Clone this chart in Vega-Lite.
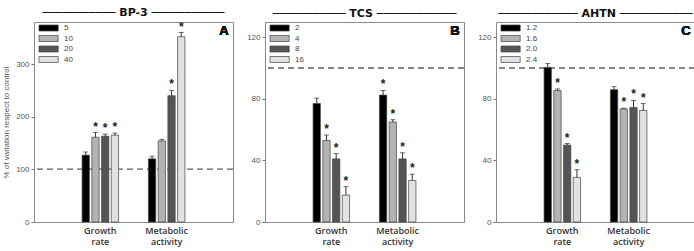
{
  "$schema": "https://vega.github.io/schema/vega-lite/v6.json",
  "padding": {"left": 2, "top": 6, "right": 0, "bottom": 0},
  "background": "white",
  "config": {
    "view": {"stroke": "#8a8a8a", "strokeWidth": 1},
    "font": "Open Sans",
    "title": {"font": "DejaVu Sans", "fontSize": 11, "fontWeight": "bold", "color": "#111", "offset": 3},
    "axisY": {"grid": false, "domain": false, "tickSize": 3, "tickColor": "#777", "labelFontSize": 8, "labelColor": "#555", "labelFont": "Liberation Sans", "labelPadding": 2},
    "axisX": {"domain": false, "ticks": false, "labelAngle": 0, "labelFontSize": 9, "labelColor": "#333", "labelFontWeight": 600, "labelPadding": 4, "labelLineHeight": 11, "title": null, "labelExpr": "split(datum.label, ' ')"},
    "legend": {"orient": "none", "legendX": 10.6, "legendY": 2, "title": null, "labelFontSize": 8, "labelColor": "#444", "labelFont": "Liberation Sans", "symbolType": "M-3.2,-1H3.2V1H-3.2Z", "symbolSize": 36, "symbolStrokeColor": "#444", "symbolStrokeWidth": 0.7, "rowPadding": 0.5, "labelOffset": 11.5, "padding": 0}
  },
  "datasets": {
    "d": [
      {"panel": "A", "endpoint": "Growth rate", "conc": "5", "value": 127, "err": 133, "sig": 0},
      {"panel": "A", "endpoint": "Growth rate", "conc": "10", "value": 161, "err": 170, "sig": 1},
      {"panel": "A", "endpoint": "Growth rate", "conc": "20", "value": 163, "err": 167, "sig": 1},
      {"panel": "A", "endpoint": "Growth rate", "conc": "40", "value": 165, "err": 169, "sig": 1},
      {"panel": "A", "endpoint": "Metabolic activity", "conc": "5", "value": 120, "err": 125, "sig": 0},
      {"panel": "A", "endpoint": "Metabolic activity", "conc": "10", "value": 154, "err": 157, "sig": 0},
      {"panel": "A", "endpoint": "Metabolic activity", "conc": "20", "value": 240, "err": 250, "sig": 1},
      {"panel": "A", "endpoint": "Metabolic activity", "conc": "40", "value": 352, "err": 360, "sig": 1},
      {"panel": "B", "endpoint": "Growth rate", "conc": "2", "value": 77, "err": 80.5, "sig": 0},
      {"panel": "B", "endpoint": "Growth rate", "conc": "4", "value": 53, "err": 56.5, "sig": 1},
      {"panel": "B", "endpoint": "Growth rate", "conc": "8", "value": 41, "err": 44.5, "sig": 1},
      {"panel": "B", "endpoint": "Growth rate", "conc": "16", "value": 17.5, "err": 23, "sig": 1},
      {"panel": "B", "endpoint": "Metabolic activity", "conc": "2", "value": 82.5, "err": 85.5, "sig": 1},
      {"panel": "B", "endpoint": "Metabolic activity", "conc": "4", "value": 65, "err": 66.5, "sig": 1},
      {"panel": "B", "endpoint": "Metabolic activity", "conc": "8", "value": 41, "err": 45, "sig": 1},
      {"panel": "B", "endpoint": "Metabolic activity", "conc": "16", "value": 27, "err": 31, "sig": 1},
      {"panel": "C", "endpoint": "Growth rate", "conc": "1.2", "value": 100.5, "err": 103, "sig": 0},
      {"panel": "C", "endpoint": "Growth rate", "conc": "1.6", "value": 85.5, "err": 86.5, "sig": 1},
      {"panel": "C", "endpoint": "Growth rate", "conc": "2.0", "value": 50, "err": 51, "sig": 1},
      {"panel": "C", "endpoint": "Growth rate", "conc": "2.4", "value": 29, "err": 34, "sig": 1},
      {"panel": "C", "endpoint": "Metabolic activity", "conc": "1.2", "value": 86, "err": 88, "sig": 0},
      {"panel": "C", "endpoint": "Metabolic activity", "conc": "1.6", "value": 73.5, "err": 74, "sig": 1},
      {"panel": "C", "endpoint": "Metabolic activity", "conc": "2.0", "value": 74.5, "err": 79, "sig": 1},
      {"panel": "C", "endpoint": "Metabolic activity", "conc": "2.4", "value": 72.5, "err": 77, "sig": 1}
    ]
  },
  "spacing": 12,
  "resolve": {"scale": {"x": "independent", "y": "independent", "color": "independent", "xOffset": "independent"}, "legend": {"color": "independent"}, "axis": {"y": "independent"}},
  "hconcat": [
    {
      "width": 199, "height": 200,
      "title": {"text": "─────────── BP-3 ───────────"},
      "data": {"name": "d"},
      "transform": [{"filter": "datum.panel == 'A'"}],
      "layer": [
        {"mark": {"type": "rule", "strokeDash": [6, 4], "color": "#888", "strokeWidth": 1}, "encoding": {"y": {"datum": 100, "type": "quantitative", "scale": {"domain": [0, 380], "nice": false}}}},
        {"mark": {"type": "bar", "stroke": "#444", "strokeWidth": 0.7},
         "encoding": {
           "x": {"field": "endpoint", "type": "nominal", "sort": ["Growth rate", "Metabolic activity"], "scale": {"paddingInner": 0.45, "paddingOuter": 0.725}},
           "xOffset": {"field": "conc", "type": "nominal", "sort": ["5", "10", "20", "40"], "scale": {"paddingInner": 0.25}},
           "y": {"field": "value", "type": "quantitative", "scale": {"domain": [0, 380], "nice": false}, "axis": {"values": [0, 50, 100, 150, 200, 250, 300, 350], "title": "% of variation respect to control", "titleFontSize": 8, "titleFontWeight": "normal", "titleColor": "#555", "titleFont": "Liberation Sans", "titlePadding": 5}},
           "color": {"field": "conc", "type": "nominal", "scale": {"domain": ["5", "10", "20", "40"], "range": ["#000000", "#b3b3b3", "#555555", "#e2e2e2"]}}
         }},
        {"mark": {"type": "rule", "color": "#333", "strokeWidth": 1},
         "encoding": {
           "x": {"field": "endpoint", "type": "nominal", "sort": ["Growth rate", "Metabolic activity"]},
           "xOffset": {"field": "conc", "type": "nominal", "sort": ["5", "10", "20", "40"]},
           "y": {"field": "value", "type": "quantitative"}, "y2": {"field": "err"}
         }},
        {"mark": {"type": "tick", "color": "#333", "size": 5, "thickness": 1},
         "encoding": {
           "x": {"field": "endpoint", "type": "nominal", "sort": ["Growth rate", "Metabolic activity"]},
           "xOffset": {"field": "conc", "type": "nominal", "sort": ["5", "10", "20", "40"]},
           "y": {"field": "err", "type": "quantitative"}
         }},
        {"transform": [{"filter": "datum.sig == 1"}],
         "mark": {"type": "text", "text": "*", "fontSize": 12, "fontWeight": "bold", "baseline": "middle", "dy": -6, "color": "#222", "font": "Liberation Sans"},
         "encoding": {
           "x": {"field": "endpoint", "type": "nominal", "sort": ["Growth rate", "Metabolic activity"]},
           "xOffset": {"field": "conc", "type": "nominal", "sort": ["5", "10", "20", "40"]},
           "y": {"field": "err", "type": "quantitative"}
         }},
        {"mark": {"type": "text", "text": "A", "fontSize": 13, "fontWeight": "bold", "align": "right", "baseline": "alphabetic", "dx": 62, "color": "#111", "font": "Liberation Sans"},
         "encoding": {"x": {"datum": "Metabolic activity", "type": "nominal"}, "y": {"datum": 355, "type": "quantitative"}}}
      ]
    },
    {
      "width": 199, "height": 200,
      "title": {"text": "─────────── TCS ────────────"},
      "data": {"name": "d"},
      "transform": [{"filter": "datum.panel == 'B'"}],
      "layer": [
        {"mark": {"type": "rule", "strokeDash": [6, 4], "color": "#888", "strokeWidth": 1}, "encoding": {"y": {"datum": 100, "type": "quantitative", "scale": {"domain": [0, 130], "nice": false}}}},
        {"mark": {"type": "bar", "stroke": "#444", "strokeWidth": 0.7},
         "encoding": {
           "x": {"field": "endpoint", "type": "nominal", "sort": ["Growth rate", "Metabolic activity"], "scale": {"paddingInner": 0.45, "paddingOuter": 0.725}},
           "xOffset": {"field": "conc", "type": "nominal", "sort": ["2", "4", "8", "16"], "scale": {"paddingInner": 0.25}},
           "y": {"field": "value", "type": "quantitative", "scale": {"domain": [0, 130], "nice": false}, "axis": {"values": [0, 20, 40, 60, 80, 100, 120], "title": null}},
           "color": {"field": "conc", "type": "nominal", "scale": {"domain": ["2", "4", "8", "16"], "range": ["#000000", "#b3b3b3", "#555555", "#e2e2e2"]}}
         }},
        {"mark": {"type": "rule", "color": "#333", "strokeWidth": 1},
         "encoding": {
           "x": {"field": "endpoint", "type": "nominal", "sort": ["Growth rate", "Metabolic activity"]},
           "xOffset": {"field": "conc", "type": "nominal", "sort": ["2", "4", "8", "16"]},
           "y": {"field": "value", "type": "quantitative"}, "y2": {"field": "err"}
         }},
        {"mark": {"type": "tick", "color": "#333", "size": 5, "thickness": 1},
         "encoding": {
           "x": {"field": "endpoint", "type": "nominal", "sort": ["Growth rate", "Metabolic activity"]},
           "xOffset": {"field": "conc", "type": "nominal", "sort": ["2", "4", "8", "16"]},
           "y": {"field": "err", "type": "quantitative"}
         }},
        {"transform": [{"filter": "datum.sig == 1"}],
         "mark": {"type": "text", "text": "*", "fontSize": 12, "fontWeight": "bold", "baseline": "middle", "dy": -6, "color": "#222", "font": "Liberation Sans"},
         "encoding": {
           "x": {"field": "endpoint", "type": "nominal", "sort": ["Growth rate", "Metabolic activity"]},
           "xOffset": {"field": "conc", "type": "nominal", "sort": ["2", "4", "8", "16"]},
           "y": {"field": "err", "type": "quantitative"}
         }},
        {"mark": {"type": "text", "text": "B", "fontSize": 13, "fontWeight": "bold", "align": "right", "baseline": "alphabetic", "dx": 62, "color": "#111", "font": "Liberation Sans"},
         "encoding": {"x": {"datum": "Metabolic activity", "type": "nominal"}, "y": {"datum": 121.5, "type": "quantitative"}}}
      ]
    },
    {
      "width": 199, "height": 200,
      "title": {"text": "──────────── AHTN ───────────"},
      "data": {"name": "d"},
      "transform": [{"filter": "datum.panel == 'C'"}],
      "layer": [
        {"mark": {"type": "rule", "strokeDash": [6, 4], "color": "#888", "strokeWidth": 1}, "encoding": {"y": {"datum": 100, "type": "quantitative", "scale": {"domain": [0, 130], "nice": false}}}},
        {"mark": {"type": "bar", "stroke": "#444", "strokeWidth": 0.7},
         "encoding": {
           "x": {"field": "endpoint", "type": "nominal", "sort": ["Growth rate", "Metabolic activity"], "scale": {"paddingInner": 0.45, "paddingOuter": 0.725}},
           "xOffset": {"field": "conc", "type": "nominal", "sort": ["1.2", "1.6", "2.0", "2.4"], "scale": {"paddingInner": 0.25}},
           "y": {"field": "value", "type": "quantitative", "scale": {"domain": [0, 130], "nice": false}, "axis": {"values": [0, 20, 40, 60, 80, 100, 120], "title": null}},
           "color": {"field": "conc", "type": "nominal", "scale": {"domain": ["1.2", "1.6", "2.0", "2.4"], "range": ["#000000", "#b3b3b3", "#555555", "#e2e2e2"]}}
         }},
        {"mark": {"type": "rule", "color": "#333", "strokeWidth": 1},
         "encoding": {
           "x": {"field": "endpoint", "type": "nominal", "sort": ["Growth rate", "Metabolic activity"]},
           "xOffset": {"field": "conc", "type": "nominal", "sort": ["1.2", "1.6", "2.0", "2.4"]},
           "y": {"field": "value", "type": "quantitative"}, "y2": {"field": "err"}
         }},
        {"mark": {"type": "tick", "color": "#333", "size": 5, "thickness": 1},
         "encoding": {
           "x": {"field": "endpoint", "type": "nominal", "sort": ["Growth rate", "Metabolic activity"]},
           "xOffset": {"field": "conc", "type": "nominal", "sort": ["1.2", "1.6", "2.0", "2.4"]},
           "y": {"field": "err", "type": "quantitative"}
         }},
        {"transform": [{"filter": "datum.sig == 1"}],
         "mark": {"type": "text", "text": "*", "fontSize": 12, "fontWeight": "bold", "baseline": "middle", "dy": -6, "color": "#222", "font": "Liberation Sans"},
         "encoding": {
           "x": {"field": "endpoint", "type": "nominal", "sort": ["Growth rate", "Metabolic activity"]},
           "xOffset": {"field": "conc", "type": "nominal", "sort": ["1.2", "1.6", "2.0", "2.4"]},
           "y": {"field": "err", "type": "quantitative"}
         }},
        {"mark": {"type": "text", "text": "C", "fontSize": 13, "fontWeight": "bold", "align": "right", "baseline": "alphabetic", "dx": 62, "color": "#111", "font": "Liberation Sans"},
         "encoding": {"x": {"datum": "Metabolic activity", "type": "nominal"}, "y": {"datum": 121.5, "type": "quantitative"}}}
      ]
    }
  ]
}
